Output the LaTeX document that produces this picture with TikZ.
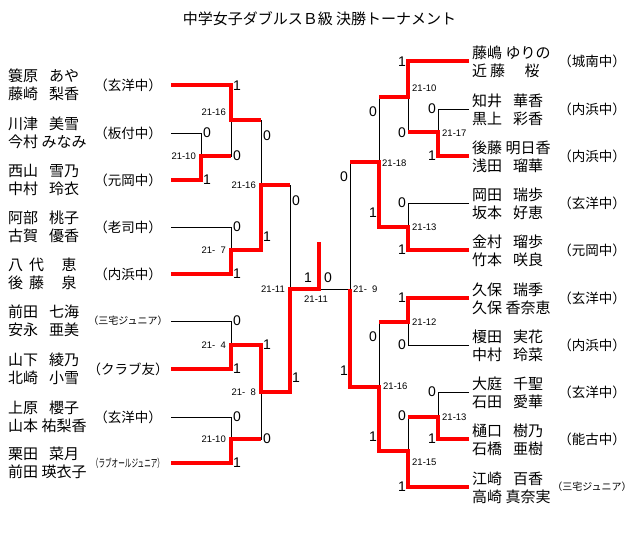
\documentclass[tikz,border=0pt]{standalone}
\usepackage{fontspec}
\newfontfamily\jpfont{Noto Sans CJK JP}
\newfontfamily\numfont{Liberation Sans}
\usetikzlibrary{positioning}
\newcommand\nm[2]{\makebox[36pt][l]{#1}\makebox[40pt][c]{#2}}

\tikzset{
  lose/.style = {draw = black, line width = 1pt},
  win/.style = {draw = red, line width = 3.5pt},
  player/.style = {anchor = west, inner sep = 0pt, font = \jpfont\fontsize{15}{17}\selectfont},
  school/.style = {inner sep = 0pt, font = \jpfont\fontsize{13.5}{15}\selectfont},
  point/.style = {inner sep = 0pt, font = \numfont\fontsize{14}{16}\selectfont},
  result/.style = {inner sep = 0pt, font = \numfont\fontsize{9.5}{11}\selectfont},
}

\begin{document}
\begin{tikzpicture}[x = 1pt, y = -1pt]
\useasboundingbox (0,0) rectangle (640,541);
\node[inner sep = 0pt, font = \jpfont\fontsize{15}{17}\selectfont] (title) at (319.5,19) {中学女子ダブルスＢ級 決勝トーナメント};

\foreach \n/\y/\one/\two/\sch in {
  1/85/{\nm{簑原}{あや}}/{\nm{藤崎}{梨香}}/{（玄洋中）},
  2/133/{\nm{川津}{美雪}}/{\nm{今村}{みなみ}}/{（板付中）},
  3/180/{\nm{西山}{雪乃}}/{\nm{中村}{玲衣}}/{（元岡中）},
  4/227/{\nm{阿部}{桃子}}/{\nm{古賀}{優香}}/{（老司中）},
  5/274/{\nm{八\hspace{6pt}代}{\hspace{10pt}恵}}/{\nm{後\hspace{6pt}藤}{\hspace{10pt}泉}}/{（内浜中）},
  6/321/{\nm{前田}{七海}}/{\nm{安永}{亜美}}/{{\fontsize{10}{12}\selectfont （三宅ジュニア）}},
  7/369/{\nm{山下}{綾乃}}/{\nm{北崎}{小雪}}/{（クラブ友）},
  8/417/{\nm{上原}{櫻子}}/{\nm{山本}{祐梨香}}/{（玄洋中）},
  9/463/{\nm{栗田}{菜月}}/{\nm{前田}{瑛衣子}}/{\scalebox{0.6}[1]{\fontsize{11}{13}\selectfont （ラブオールジュニア）}}}
{
  \coordinate (l\n) at (171,\y);
  \node[player] (l\n top) at (8,\y-9) {\one};
  \node[player] (l\n bot) at (8,\y+9) {\two};
  \node[school] (l\n sch) at (128,\y) {\sch};
}

\foreach \n/\y/\one/\two/\sch in {
  1/61/{\nm{藤嶋}{ゆりの}}/{\nm{近\hspace{3pt}藤}{\hspace{8pt}桜}}/{（城南中）},
  2/109/{\nm{知井}{華香}}/{\nm{黒上}{彩香}}/{（内浜中）},
  3/156/{\nm{後藤}{明日香}}/{\nm{浅田}{瑠華}}/{（内浜中）},
  4/203/{\nm{岡田}{瑞歩}}/{\nm{坂本}{好恵}}/{（玄洋中）},
  5/250/{\nm{金村}{瑠歩}}/{\nm{竹本}{咲良}}/{（元岡中）},
  6/298/{\nm{久保}{瑞季}}/{\nm{久保}{香奈恵}}/{（玄洋中）},
  7/345/{\nm{榎田}{実花}}/{\nm{中村}{玲菜}}/{（内浜中）},
  8/392/{\nm{大庭}{千聖}}/{\nm{石田}{愛華}}/{（玄洋中）},
  9/439/{\nm{樋口}{樹乃}}/{\nm{石橋}{亜樹}}/{（能古中）},
  10/487/{\nm{江崎}{百香}}/{\nm{高崎}{真奈実}}/{{\fontsize{10}{12}\selectfont （三宅ジュニア）}}}
{
  \coordinate (r\n) at (469,\y);
  \node[player] (r\n top) at (472,\y-8) {\one};
  \node[player] (r\n bot) at (472,\y+10) {\two};
  \node[school] (r\n sch) at (592,\y) {\sch};
}

\coordinate (q1) at (201,156);
\coordinate (q2) at (231,120);
\coordinate (q3) at (231,250);
\coordinate (q4) at (231,345);
\coordinate (q5) at (231,439);
\coordinate (s1) at (261,185);
\coordinate (s2) at (261,392);
\coordinate (semiL) at (290,289);
\coordinate (fin) at (319,289);
\coordinate (cup) at (319,242);
\coordinate (p1) at (438,132);
\coordinate (p2) at (408,97);
\coordinate (p3) at (408,227);
\coordinate (s3) at (379,162);
\coordinate (p4) at (408,322);
\coordinate (p5) at (438,417);
\coordinate (p6) at (408,451);
\coordinate (s4) at (379,387);
\coordinate (semiR) at (350,289);

\foreach \a/\b in {l1/q2, l2/q1, l3/q1, q1/q2, l4/q3, l5/q3, l6/q4, l7/q4, l8/q5, l9/q5,
  q2/s1, q3/s1, q4/s2, q5/s2, s1/semiL, s2/semiL,
  r1/p2, r2/p1, r3/p1, p1/p2, r4/p3, r5/p3, p2/s3, p3/s3, r6/p4, r7/p4,
  r8/p5, r9/p5, p5/p6, r10/p6, p4/s4, p6/s4, s3/semiR, s4/semiR}
  \draw[lose] (\a) -| (\b);
\draw[lose] (semiL) -- (semiR);

\draw[win] (l1) -| (q2) -- (q2 -| s1);
\draw[win] (l3) -| (q1) -- (q1 -| q2);
\draw[win] (l5) -| (q3) -| (s1) -- (s1 -| semiL);
\draw[win] (l7) -| (q4) -| (s2) -| (semiL) -- (fin) -- (cup);
\draw[win] (l9) -| (q5) -- (q5 -| s2);
\draw[win] (r1) -| (p2) -- (p2 -| s3);
\draw[win] (r3) -| (p1) -- (p1 -| p2);
\draw[win] (r5) -| (p3) -| (s3) -- (s3 -| semiR);
\draw[win] (r6) -| (p4) -- (p4 -| s4);
\draw[win] (r9) -| (p5) -- (p5 -| p6);
\draw[win] (r10) -| (p6) -| (s4) -| (semiR);

\foreach \x/\y/\t [count = \k] in {203/133/0, 203/180/1, 233/86/1, 233/156/0, 233/227/0, 233/274/1,
  233/321/0, 233/369/1, 233/417/0, 233/463/1, 263/136/0, 263/237/1, 263/345/1, 263/439/0,
  292/201/0, 292/378/1}
  \node[point, anchor = west] (lp\k) at (\x,\y) {\t};
\foreach \x/\y/\t [count = \k] in {406/62/1, 406/133/0, 406/203/0, 406/250/1, 406/298/1, 406/345/0,
  406/416/0, 406/487/1, 436/109/0, 436/156/1, 436/392/0, 436/439/1, 377/112/0, 377/213/1,
  377/337/0, 377/437/1, 348/177/0, 348/371/1}
  \node[point, anchor = east] (rp\k) at (\x,\y) {\t};
\node[point] (finL) at (308,278) {1};
\node[point] (finR) at (328,278) {0};

\foreach \x/\y/\t [count = \k] in {196/156/{21-10}, 226/112/{21-16}, 226/250/{21-\hphantom{0}7},
  256/185/{21-16}, 226/345/{21-\hphantom{0}4}, 226/439/{21-10}, 256/392/{21-\hphantom{0}8}, 285/289/{21-11}}
  \node[result, anchor = east] (lr\k) at (\x,\y) {\t};
\foreach \x/\y/\t [count = \k] in {412/88/{21-10}, 442/133/{21-17}, 382/163/{21-18}, 412/227/{21-13},
  353/289/{21-\hphantom{0}9}, 412/322/{21-12}, 383/386/{21-16}, 442/417/{21-13}, 412/462/{21-15}}
  \node[result, anchor = west] (rr\k) at (\x,\y) {\t};
\node[result] (finres) at (316,299) {21-11};
\end{tikzpicture}
\end{document}
